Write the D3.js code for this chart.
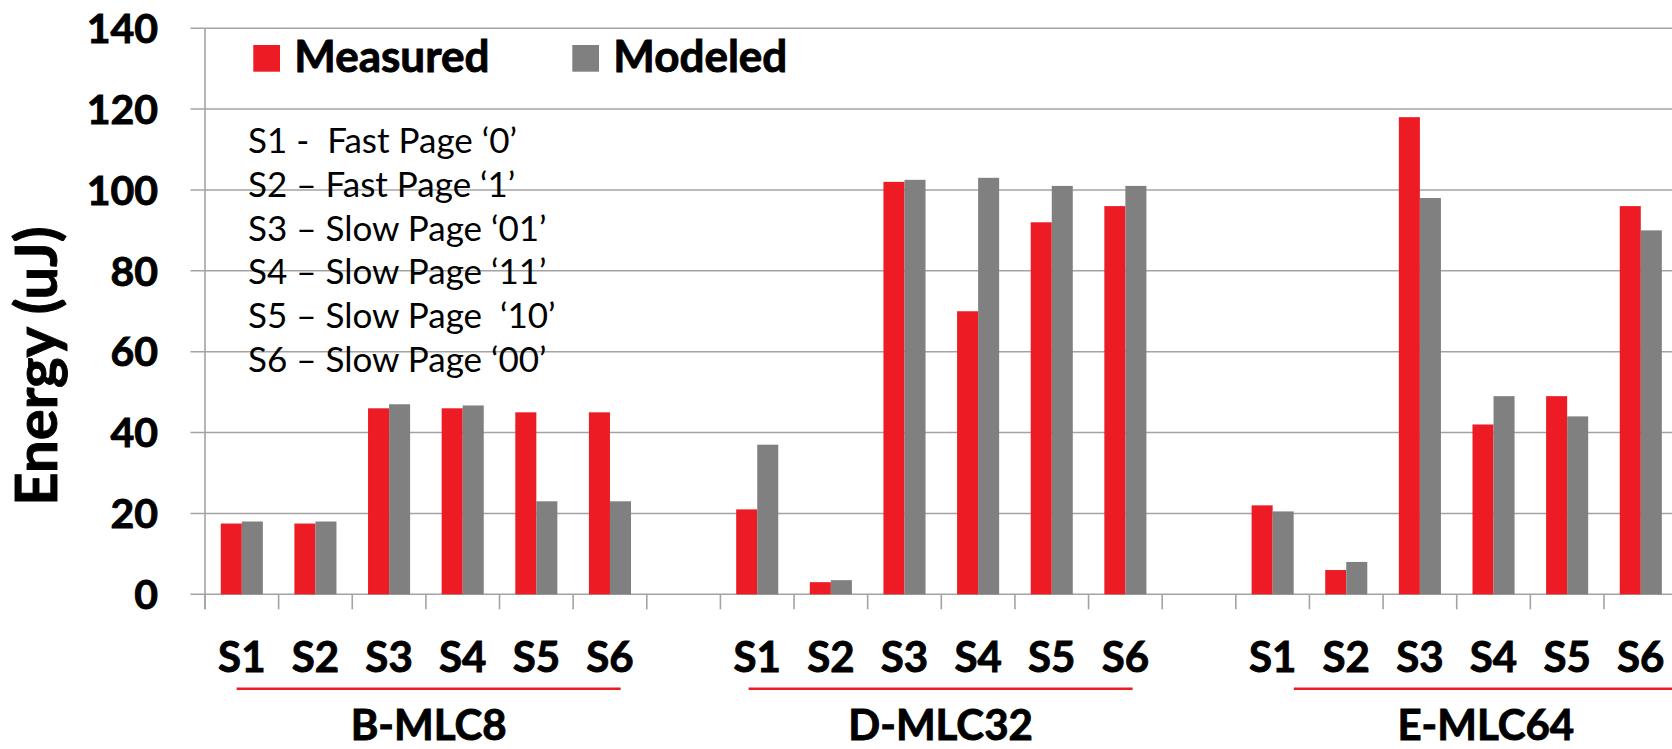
<!DOCTYPE html>
<html>
<head>
<meta charset="utf-8">
<script src="https://cdn.jsdelivr.net/npm/d3@7"></script>
<style>
  html, body { margin: 0; padding: 0; background: #fff; }
  svg { display: block; }
  text { font-family: Lato, "Open Sans", sans-serif; fill: #000; white-space: pre; }
  text.heavy { font-weight: 700; stroke: #000; stroke-width: 0.9px; paint-order: stroke; }
</style>
</head>
<body>
<svg id="chart" width="1672" height="749"></svg>
<script>
// ---- data ----
const stateLabels = ["S1", "S2", "S3", "S4", "S5", "S6"];
const chipGroups = ["B-MLC8", "D-MLC32", "E-MLC64"];
const seriesNames = ["Measured", "Modeled"];

const measuredB = [17.5, 17.5, 46, 46, 45, 45];
const modeledB  = [18, 18, 47, 46.7, 23, 23];
const measuredD = [21, 3, 102, 70, 92, 96];
const modeledD  = [37, 3.5, 102.5, 103, 101, 101];
const measuredE = [22, 6, 118, 42, 49, 96];
const modeledE  = [20.5, 8, 98, 49, 44, 90];

const yTickValues = [0, 20, 40, 60, 80, 100, 120, 140];
const yTitle = "Energy (uJ)";

const stateNotes = [
  "S1 -  Fast Page \u20180\u2019",
  "S2 \u2013 Fast Page \u20181\u2019",
  "S3 \u2013 Slow Page \u201801\u2019",
  "S4 \u2013 Slow Page \u201811\u2019",
  "S5 \u2013 Slow Page  \u201810\u2019",
  "S6 \u2013 Slow Page \u201800\u2019"
];

// ---- layout ----
const RED = "#ED1C24", GREY = "#808080", GRID = "#A3A3A3";
const plot = { left: 205, top: 28.2, bottom: 594.3, step: 73.63 };
// where each group's underline starts, in bands from the group's first slot
const bracketStart = [0.43, 0.383, 0.788];
const bracketLen = 5.215;

const svg = d3.select("#chart");

// slots: six states per group, one empty slot between groups
const slots = [];
const rows = [];
const measuredAll = [measuredB, measuredD, measuredE];
const modeledAll = [modeledB, modeledD, modeledE];
chipGroups.forEach((g, gi) => {
  stateLabels.forEach((s, si) => {
    const key = g + "|" + s;
    slots.push(key);
    rows.push({ key, state: s, group: g, Measured: measuredAll[gi][si], Modeled: modeledAll[gi][si] });
  });
  if (gi < chipGroups.length - 1) slots.push("gap" + gi);
});

const x = d3.scaleBand()
  .domain(slots)
  .range([plot.left, plot.left + slots.length * plot.step])
  .padding(0);

const xInner = d3.scaleBand()
  .domain(seriesNames)
  .range([0, x.bandwidth()])
  .paddingInner(0)
  .paddingOuter(0.75);

const y = d3.scaleLinear().domain([0, 140]).range([plot.bottom, plot.top]);

const color = d3.scaleOrdinal().domain(seriesNames).range([RED, GREY]);

// gridlines (extending left of the axis as tick marks)
svg.append("g")
  .selectAll("line")
  .data(yTickValues)
  .join("line")
  .attr("x1", plot.left - 14.5)
  .attr("x2", 1672)
  .attr("y1", d => y(d))
  .attr("y2", d => y(d))
  .attr("stroke", GRID)
  .attr("stroke-width", 1.6);

// y tick labels
svg.append("g")
  .selectAll("text")
  .data(yTickValues)
  .join("text")
  .attr("class", "heavy")
  .attr("x", 158)
  .attr("y", d => y(d))
  .attr("dy", "0.36em")
  .attr("text-anchor", "end")
  .style("font-size", "41px")
  .text(d => d);

// y axis line
svg.append("line")
  .attr("x1", plot.left).attr("x2", plot.left)
  .attr("y1", plot.top).attr("y2", plot.bottom + 15)
  .attr("stroke", GRID).attr("stroke-width", 1.6);

// category ticks at band edges
const edges = slots.map(k => x(k)).concat([x.range()[1]]);
svg.append("g")
  .selectAll("line")
  .data(edges)
  .join("line")
  .attr("x1", d => d).attr("x2", d => d)
  .attr("y1", plot.bottom).attr("y2", plot.bottom + 15)
  .attr("stroke", GRID).attr("stroke-width", 1.6);

// bars
const barGroups = svg.append("g")
  .selectAll("g")
  .data(rows)
  .join("g")
  .attr("transform", d => `translate(${x(d.key)},0)`);

barGroups.selectAll("rect")
  .data(d => seriesNames.map(s => ({ series: s, value: d[s] })))
  .join("rect")
  .attr("x", d => xInner(d.series))
  .attr("width", xInner.bandwidth())
  .attr("y", d => y(d.value))
  .attr("height", d => y(0) - y(d.value))
  .attr("fill", d => color(d.series));

// state labels under each slot
svg.append("g")
  .selectAll("text")
  .data(rows)
  .join("text")
  .attr("class", "heavy")
  .attr("x", d => x(d.key) + x.bandwidth() / 2)
  .attr("y", 671.5)
  .attr("text-anchor", "middle")
  .style("font-size", "42px")
  .text(d => d.state);

// group underlines and names
chipGroups.forEach((g, gi) => {
  const x0 = x(g + "|" + stateLabels[0]) + bracketStart[gi] * plot.step;
  const x1 = x0 + bracketLen * plot.step;
  svg.append("line")
    .attr("x1", x0).attr("x2", x1)
    .attr("y1", 688.7).attr("y2", 688.7)
    .attr("stroke", RED).attr("stroke-width", 2.4);
  svg.append("text")
    .attr("class", "heavy")
    .attr("x", (x0 + x1) / 2)
    .attr("y", 740)
    .attr("text-anchor", "middle")
    .style("font-size", "42px")
    .text(g);
});

// y axis title
svg.append("text")
  .attr("class", "heavy")
  .attr("transform", "translate(57,366) rotate(-90)")
  .attr("text-anchor", "middle")
  .style("font-size", "58px")
  .text(yTitle);

// legend
const legendPos = [{ sx: 253.3, tx: 294.3 }, { sx: 572.3, tx: 613.3 }];
seriesNames.forEach((s, i) => {
  svg.append("rect")
    .attr("x", legendPos[i].sx).attr("y", 45)
    .attr("width", 26.7).attr("height", 26.7)
    .attr("fill", color(s));
  svg.append("text")
    .attr("class", "heavy")
    .attr("x", legendPos[i].tx).attr("y", 71.7)
    .style("font-size", "44px")
    .text(s);
});

// state descriptions
svg.append("g")
  .selectAll("text")
  .data(stateNotes)
  .join("text")
  .attr("x", 248)
  .attr("y", (d, i) => 153.3 + i * 43.7)
  .style("font-size", "35px")
  .text(d => d);
</script>
</body>
</html>
